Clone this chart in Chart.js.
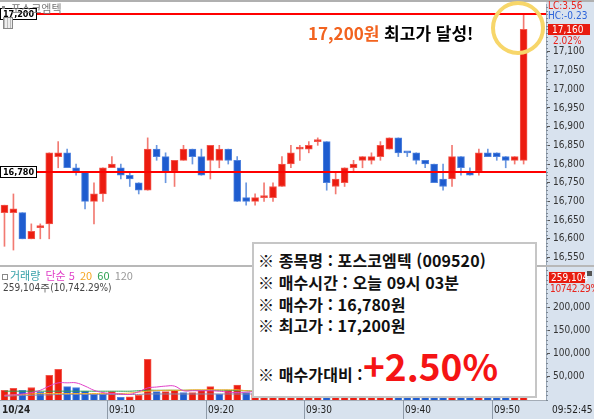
<!DOCTYPE html>
<html lang="ko">
<head>
<meta charset="utf-8">
<title>포스코엠텍 분봉</title>
<script src="https://cdn.jsdelivr.net/npm/chart.js@4.4.1/dist/chart.umd.min.js"></script>
<style>
  body { margin: 0; background: #fff; }
  #screen { position: relative; width: 594px; height: 419px; overflow: hidden; background: #fff; font-family: "Noto Sans CJK KR", sans-serif; }
  .abs { position: absolute; white-space: nowrap; }
  .axisText { font: 10px "Liberation Sans Narrow", "DejaVu Sans Condensed", "Liberation Sans", sans-serif; line-height: 10px; }
  #axisStrip { left: 546px; top: 0; width: 48px; height: 419px; background: #d8e2ee; }
  #timeBand { left: 0; top: 400px; width: 546px; height: 19px; background: #d8e2ee; border-top: 1px solid #a4acb6; box-sizing: border-box; }
  canvas { position: absolute; left: 0; }
  #priceChart { top: 0; }
  #volumeChart { top: 266px; }
  #topLine { left: 0; top: 0; width: 594px; height: 2px; background: #b0b0b0; }
  #panelLine { left: 0; top: 265px; width: 594px; height: 2px; background: #b8b8b8; }
  #infoBox { left: 252px; top: 242px; width: 285px; height: 156px; background: #fff; border: 2px solid #c6c6c6; box-sizing: border-box; }
  .row { position: absolute; left: 4px; font-size: 16px; font-weight: 700; line-height: 16px; color: #111; letter-spacing: 0.1px; }
  #bigRate { font-size: 37px; line-height: 38px; font-weight: 700; color: #f51414; letter-spacing: 0; }
  #ring { left: 491px; top: 1px; width: 54px; height: 54px; border: 4px solid #f7d66a; border-radius: 50%; box-sizing: border-box; }
  #highNote { left: 308px; top: 23px; font-size: 17px; font-weight: 700; line-height: 20px; }
  #highNote .hi { color: #f2631f; }
  #highNote span { -webkit-text-stroke: 3px #fff; paint-order: stroke fill; }
</style>
</head>
<body>
<div id="screen">
  <div id="axisStrip" class="abs"></div>
  <div id="timeBand" class="abs"></div>
  <canvas id="priceChart" width="594" height="265"></canvas>
  <canvas id="volumeChart" width="594" height="153"></canvas>
  <div id="topLine" class="abs"></div>
  <div id="panelLine" class="abs"></div>

  <!-- top left tab -->
  <div class="abs" style="left:2px;top:6px;width:3px;height:3px;background:#888"></div>
  <div class="abs" style="left:11px;top:2px;font-size:11px;line-height:12px;color:#777">포스코엠텍</div>
  <div class="abs" style="left:3px;top:17px;width:8px;height:10px;border:1px solid #888;background:repeating-linear-gradient(90deg,#bbb 0 1px,#eee 1px 3px)"></div>

  <!-- right axis labels -->
  <div class="abs axisText" style="left:548px;top:1px;color:#e8241c">LC:3.56</div>
  <div class="abs axisText" style="left:548px;top:11px;color:#2b63d9">HC:-0.23</div>
  <div class="abs axisText" style="left:548px;top:24px;width:42px;height:11px;line-height:11px;background:#e81c10;color:#fff;padding-left:4px;box-sizing:border-box">17,160</div>
  <div class="abs axisText" style="left:553px;top:36px;color:#e8241c">2.02%</div>
  <div class="abs axisText" style="left:549px;top:272px;width:36px;height:11px;line-height:11px;background:#e81c10;color:#fff;padding-left:2px;box-sizing:border-box">259,104</div>
  <div class="abs" style="left:587px;top:271px;width:5px;height:5px;background:#555"></div>
  <div class="abs axisText" style="left:550px;top:284px;color:#e8241c;letter-spacing:-0.3px">10742.29%</div>
  <div class="abs axisText" style="left:552px;top:405px;color:#222">09:52:45</div>

  <!-- volume legend -->
  <div class="abs" style="left:2px;top:268px;font-size:11px;line-height:14px">
    <span style="display:inline-block;width:4px;height:4px;border:1px solid #888;margin-right:2px;vertical-align:middle"></span><span style="color:#35a0a8">거래량</span>
    <span style="color:#e040c8;margin-left:2px">단순 5</span>
    <span style="color:#f5a623;margin-left:2px">20</span>
    <span style="color:#2ca050;margin-left:2px">60</span>
    <span style="color:#999;margin-left:2px">120</span>
  </div>
  <div class="abs axisText" style="left:3px;top:283px;color:#444">259,104주(10,742.29%)</div>

  <!-- annotations -->
  <div id="ring" class="abs"></div>
  <div id="highNote" class="abs"><span class="hi">17,200원</span> <span>최고가 달성!</span></div>

  <div id="infoBox" class="abs">
    <div class="row" style="top:8px">※ 종목명 : 포스코엠텍 (009520)</div>
    <div class="row" style="top:30px">※ 매수시간 : 오늘 09시 03분</div>
    <div class="row" style="top:52px">※ 매수가 : 16,780원</div>
    <div class="row" style="top:73px">※ 최고가 : 17,200원</div>
    <div class="row" style="top:122px">※ 매수가대비 :</div>
    <div class="row" id="bigRate" style="left:109px;top:102px">+2.50%</div>
  </div>
</div>

<script>
// 1분봉 시가/고가/저가/종가
const opens = [16670, 16670, 16670, 16600, 16630, 16640, 16820, 16830, 16790, 16780,
  16700, 16720, 16790, 16790, 16770, 16750, 16730, 16840, 16820, 16780,
  16810, 16840, 16820, 16810, 16810, 16840, 16810, 16710, 16700, 16710,
  16710, 16740, 16800, 16840, 16840, 16860, 16860, 16740, 16750, 16790,
  16810, 16810, 16820, 16840, 16870, 16830, 16830, 16810, 16800, 16760,
  16760, 16820, 16780, 16780, 16830, 16830, 16820, 16810, 16810];
const highs = [16690, 16720, 16670, 16640, 16640, 16830, 16860, 16840, 16800, 16780,
  16750, 16790, 16820, 16800, 16780, 16750, 16870, 16850, 16830, 16810,
  16850, 16840, 16840, 16850, 16850, 16840, 16820, 16750, 16720, 16750,
  16750, 16820, 16850, 16850, 16860, 16870, 16860, 16780, 16790, 16810,
  16820, 16830, 16860, 16870, 16870, 16830, 16830, 16810, 16800, 16800,
  16850, 16820, 16790, 16840, 16840, 16830, 16820, 16820, 17200];
const lows = [16580, 16570, 16600, 16600, 16600, 16600, 16790, 16790, 16770, 16680,
  16640, 16700, 16790, 16760, 16740, 16720, 16730, 16810, 16750, 16740,
  16810, 16800, 16770, 16760, 16790, 16800, 16700, 16690, 16690, 16700,
  16700, 16740, 16790, 16810, 16830, 16850, 16730, 16720, 16740, 16780,
  16790, 16800, 16810, 16840, 16820, 16820, 16800, 16790, 16750, 16730,
  16740, 16770, 16770, 16770, 16820, 16810, 16790, 16800, 16800];
const closes = [16690, 16680, 16600, 16620, 16630, 16830, 16830, 16790, 16780, 16700,
  16720, 16790, 16800, 16770, 16760, 16730, 16840, 16820, 16780, 16810,
  16840, 16820, 16770, 16850, 16840, 16810, 16700, 16700, 16710, 16710,
  16740, 16800, 16830, 16840, 16850, 16860, 16750, 16760, 16790, 16800,
  16820, 16820, 16850, 16870, 16830, 16830, 16810, 16800, 16750, 16740,
  16820, 16790, 16770, 16830, 16820, 16820, 16810, 16820, 17160];

// 거래량 (주)
const volumes = [21000, 25000, 21000, 27000, 17000, 53000, 66000, 29000, 27000, 19000,
  13000, 13000, 18000, 6000, 7000, 10000, 88000, 18000, 18000, 21000,
  16000, 16000, 21000, 29000, 13000, 21000, 32000, 16000, 14000, 12000,
  18000, 26000, 22000, 12000, 16000, 14000, 40000, 18000, 16000, 12000,
  10000, 12000, 20000, 18000, 22000, 10000, 12000, 20000, 18000, 28000,
  16000, 10000, 22000, 10000, 8000, 10000, 12000, 14000, 259104];
const volumeColors = "RRBRBRRBBBBBRBRRRBRRBRRRBRRBRRRRRRRRBRRRRRRRBBBBBBRBBRBBBRR";

// 거래량 이동평균 (단순 5, 20, 60, 120)
const ma5 = [10000, 11000, 13000, 16000, 21000, 30000, 37000, 37000, 37000, 30000,
  21000, 16000, 14000, 13000, 12000, 18000, 26000, 28000, 30000, 30000,
  20000, 20000, 20000, 20000, 19000, 17000, 16000, 17000, 18000, 18000];
const ma20 = [10000, 11000, 12000, 13000, 14000, 14000, 14000, 14000, 14000, 14000,
  14000, 14000, 14000, 14000, 15000, 17000, 19000, 20000, 21000, 21000,
  21000, 22000, 22000, 22000, 22000, 22000, 22000, 20000, 19000, 19000];
const ma60 = [19000, 19000, 19000, 19000, 19000, 19000, 19000, 19000, 19000, 19000,
  19000, 19000, 19000, 19000, 19000, 20000, 21000, 21000, 21000, 21000,
  21000, 21000, 21000, 21000, 21000, 21000, 20000, 20000, 19000, 19000];
const ma120 = [8000, 9000, 10000, 10000, 11000, 11000, 12000, 12000, 12000, 12000,
  12000, 12000, 12000, 12000, 12000, 12000, 13000, 13000, 13000, 13000,
  13000, 13000, 13000, 13000, 13000, 13000, 13000, 13000, 13000, 13000];

// 축 눈금
const priceTicks = [16550, 16600, 16650, 16700, 16750, 16800, 16850, 16900, 16950, 17000, 17050, 17100];
const volumeTicks = [50000, 100000, 150000, 200000];
const tickIndex = [0, 12, 23, 34, 45, 55];
const tickText = ["10/24", "09:10", "09:20", "09:30", "09:40", "09:50"];

// 기준선 (최고가, 매수가)
const markValues = [17200, 16780];
const markText = ["17,200", "16,780"];

const slotCount = 61;
const slots = Array.from({ length: slotCount }, (_, i) => i);

const RED = "#ec1c10";
const BLUE = "#1e5ccf";
const axisFont = '"Liberation Sans Narrow", "DejaVu Sans Condensed", "Liberation Sans", sans-serif';

Chart.defaults.font.family = axisFont;
Chart.defaults.font.size = 10;
Chart.defaults.color = "#333";

// doji takes previous candle colour
const isUp = [];
closes.forEach((c, i) => {
  if (c > opens[i]) isUp.push(true);
  else if (c < opens[i]) isUp.push(false);
  else isUp.push(i > 0 ? isUp[i - 1] : true);
});

const wickData = lows.map((l, i) => [l, highs[i]]);
const bodyData = opens.map((o, i) => [o, closes[i]]);

// fixed axis width, no extra padding for edge labels
const fixWidth = (scale) => {
  scale.width = 48;
  scale.paddingTop = 0;
  scale.paddingBottom = 0;
};

const minorTicks = {
  id: "minorTicks",
  afterDraw(chart) {
    const s = chart.scales.y;
    const list = s.ticks.map((t) => t.value);
    const step = (list[1] - list[0]) / 5;
    const ctx = chart.ctx;
    ctx.save();
    ctx.fillStyle = "#7d8894";
    for (let v = Math.ceil(s.min / step) * step; v <= s.max; v += step) {
      const y = Math.round(s.getPixelForValue(v));
      ctx.fillRect(s.left, y, 2, 1);
    }
    ctx.restore();
  },
};

const priceMarks = {
  id: "priceMarks",
  afterDatasetsDraw(chart) {
    const { ctx, chartArea, scales } = chart;
    ctx.save();
    markValues.forEach((v, k) => {
      const y = Math.round(scales.y.getPixelForValue(v));
      ctx.fillStyle = "#ff0000";
      ctx.fillRect(chartArea.left, y - 1, chartArea.right - chartArea.left, 2);
      ctx.fillStyle = "#fff";
      ctx.fillRect(0, y - 6, 37, 12);
      ctx.strokeStyle = "#000";
      ctx.lineWidth = 1;
      ctx.strokeRect(0.5, y - 5.5, 36, 11);
      ctx.fillStyle = "#000";
      ctx.font = "bold 9px " + axisFont;
      ctx.textAlign = "center";
      ctx.textBaseline = "middle";
      ctx.fillText(markText[k], 18.5, y + 0.5);
    });
    ctx.restore();
  },
};

const timeBand = {
  id: "timeBand",
  afterDraw(chart) {
    const { ctx, chartArea, scales } = chart;
    const top = chartArea.bottom;
    ctx.save();
    ctx.textBaseline = "middle";
    tickIndex.forEach((idx, k) => {
      let x = 0;
      if (idx > 0) {
        x = Math.round((scales.x.getPixelForValue(idx - 1) + scales.x.getPixelForValue(idx)) / 2);
        ctx.fillStyle = "#8e9aa8";
        ctx.fillRect(x, top, 1, 19);
      }
      ctx.fillStyle = "#222";
      ctx.font = (k === 0 ? "bold 10px " : "10px ") + axisFont;
      ctx.fillText(tickText[k], x + 2, top + 10);
    });
    ctx.restore();
  },
};

const rightAxis = (min, max, ticks) => ({
  position: "right",
  min: min,
  max: max,
  afterFit: fixWidth,
  afterBuildTicks: (scale) => {
    scale.ticks = ticks.map((v) => ({ value: v }));
  },
  border: { display: true, color: "#98a6b6" },
  grid: { drawOnChartArea: false, drawTicks: true, tickLength: 4, color: "#555" },
  ticks: {
    autoSkip: false,
    padding: 3,
    callback: (v) => v.toLocaleString("en-US"),
  },
});

new Chart(document.getElementById("priceChart"), {
  type: "bar",
  data: {
    labels: slots,
    datasets: [
      {
        data: wickData,
        backgroundColor: isUp.map((u) => (u ? "#f27a72" : "#6b98e0")),
        barThickness: 1,
        grouped: false,
        order: 2,
      },
      {
        data: bodyData,
        backgroundColor: isUp.map((u) => (u ? RED : BLUE)),
        borderColor: isUp.map((u) => (u ? "#f2574d" : "#4f82de")),
        borderWidth: 1,
        borderSkipped: false,
        barThickness: 7,
        minBarLength: 2,
        grouped: false,
        order: 1,
      },
    ],
  },
  options: {
    responsive: false,
    animation: false,
    layout: { padding: { top: 4, left: 0, right: 0, bottom: 0 } },
    plugins: { legend: { display: false }, tooltip: { enabled: false } },
    scales: {
      x: { display: false, offset: true },
      y: rightAxis(16530, 17228, priceTicks),
    },
  },
  plugins: [priceMarks, minorTicks],
});

new Chart(document.getElementById("volumeChart"), {
  type: "bar",
  data: {
    labels: slots,
    datasets: [
      {
        data: volumes,
        backgroundColor: volumes.map((_, i) => (volumeColors[i] === "R" ? RED : BLUE)),
        borderColor: volumes.map((_, i) => (volumeColors[i] === "R" ? "#f2574d" : "#4f82de")),
        borderWidth: 1,
        borderSkipped: "bottom",
        barThickness: 7,
        order: 5,
      },
      { type: "line", data: ma120, borderColor: "#8a8aa8", borderWidth: 1, pointRadius: 0, tension: 0.4, order: 4 },
      { type: "line", data: ma60, borderColor: "#2ca050", borderWidth: 1, pointRadius: 0, tension: 0.4, order: 3 },
      { type: "line", data: ma20, borderColor: "#f5b030", borderWidth: 1, pointRadius: 0, tension: 0.4, order: 2 },
      { type: "line", data: ma5, borderColor: "#e040c8", borderWidth: 1, pointRadius: 0, tension: 0.4, order: 1 },
    ],
  },
  options: {
    responsive: false,
    animation: false,
    layout: { padding: { top: 1, left: 0, right: 0, bottom: 19 } },
    plugins: { legend: { display: false }, tooltip: { enabled: false } },
    scales: {
      x: { display: false, offset: true },
      y: rightAxis(0, 287000, volumeTicks),
    },
  },
  plugins: [timeBand, minorTicks],
});
</script>
</body>
</html>
